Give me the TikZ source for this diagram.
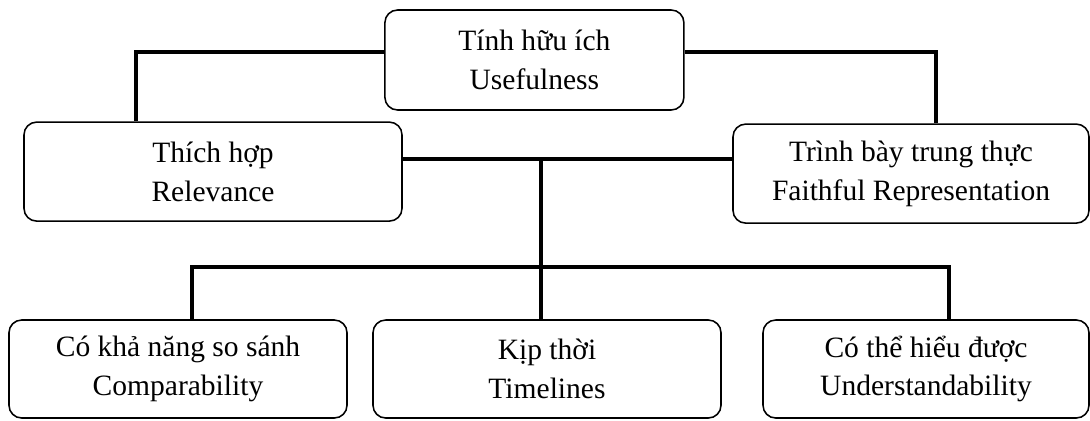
\documentclass[tikz,border=0pt]{standalone}
\usepackage{fontspec}
\setmainfont{Liberation Serif}
\usetikzlibrary{positioning, calc}

\begin{document}
\begin{tikzpicture}[entity/.style = {thin, draw=black, line width = 1.1pt, rectangle, rounded corners = 9pt, align = center, inner sep = 0pt, font = \fontsize{21}{27.5}\selectfont},
link/.style = {draw=black, line width = 2.9pt}]
%PICTURE SCOPE
\useasboundingbox (0, 0) rectangle (27.25, -10.5);
%NODES
\node at (13.36, -1.5) (useful) [entity, minimum width = 7.475cm, minimum height = 2.5cm] {Tính hữu ích\\Usefulness};
\node at (5.325, -4.29) (relev) [entity, minimum width = 9.45cm, minimum height = 2.475cm] {Thích hợp\\Relevance};
\node at (22.775, -4.34) (faith) [entity, minimum width = 8.9cm, minimum height = 2.475cm] {Trình bày trung thực\\Faithful Representation};
%
\node at (4.45, -9.225) (compar) [entity, minimum width = 8.45cm, minimum height = 2.45cm] {Có khả năng so sánh\\Comparability};
\node at (13.675, -9.225) (timel) [entity, minimum width = 8.7cm, minimum height = 2.45cm] {Kịp thời\\Timelines};
\node at (23.15, -9.225) (under) [entity, minimum width = 8.15cm, minimum height = 2.45cm] {Có thể hiểu được\\Understandability};
%%JUNCTIONS
\coordinate (topl) at (3.4, -1.3);
\coordinate (topr) at (23.4, -1.3);
\coordinate (midj) at (13.525, -3.975);
\coordinate (lowl) at (4.8, -6.675);
\coordinate (lowr) at (23.725, -6.675);
%%CONNECTIONS
\draw [link] (useful.west |- topl) -- (topl) -- (topl |- relev.north);
\draw [link] (useful.east |- topr) -- (topr) -- (topr |- faith.north);
\draw [link] (relev.east |- midj) -- (faith.west |- midj);
\draw [link] (midj) -- (midj |- timel.north);
\draw [link] (lowl |- compar.north) -- (lowl) -- (lowr) -- (lowr |- under.north);
\end{tikzpicture}
\end{document}
